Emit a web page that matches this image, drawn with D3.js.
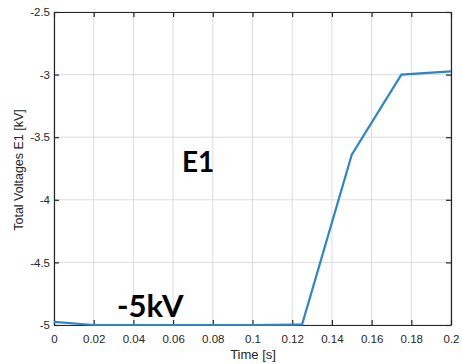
<!DOCTYPE html>
<html><head><meta charset="utf-8">
<script src="https://cdn.jsdelivr.net/npm/d3@7"></script>
<style>body{margin:0;background:#fff}svg{display:block}</style>
</head><body>
<script>
const times = [0, 0.02, 0.04, 0.06, 0.08, 0.1, 0.12, 0.125, 0.15, 0.175, 0.2];
const voltages = [-4.975, -5.0, -5.0, -5.0, -5.0, -5.0, -4.997, -4.995, -3.64, -3.0, -2.975];
const xTicks = [0, 0.02, 0.04, 0.06, 0.08, 0.1, 0.12, 0.14, 0.16, 0.18, 0.2];
const xTickLabels = ["0","0.02","0.04","0.06","0.08","0.1","0.12","0.14","0.16","0.18","0.2"];
const yTicks = [-5, -4.5, -4, -3.5, -3, -2.5];
const yTickLabels = ["-5","-4.5","-4","-3.5","-3","-2.5"];

const W = 462, H = 364;
const m = {l: 54, t: 12, r: 11, b: 39};
const svg = d3.select("body").append("svg").attr("width", W).attr("height", H);
const x = d3.scaleLinear().domain([0, 0.2]).range([m.l, W - m.r]);
const y = d3.scaleLinear().domain([-5, -2.5]).range([H - m.b, m.t]);
const axisColor = "#262626";
const font = "'Liberation Sans', Arial, sans-serif";

// grid
svg.append("g").selectAll("line").data(xTicks).join("line")
  .attr("x1", d => x(d)).attr("x2", d => x(d)).attr("y1", m.t).attr("y2", H - m.b)
  .attr("stroke", "#dcdcdc").attr("stroke-width", 1);
svg.append("g").selectAll("line").data(yTicks).join("line")
  .attr("y1", d => y(d)).attr("y2", d => y(d)).attr("x1", m.l).attr("x2", W - m.r)
  .attr("stroke", "#dcdcdc").attr("stroke-width", 1);

// axes
const fmtX = d => xTickLabels[xTicks.indexOf(d)];
const fmtY = d => yTickLabels[yTicks.indexOf(d)];
const gx = svg.append("g").attr("transform", `translate(0,${H - m.b})`)
  .call(d3.axisBottom(x).tickValues(xTicks).tickFormat(fmtX).tickSizeInner(-5).tickSizeOuter(0).tickPadding(10));
const gxt = svg.append("g").attr("transform", `translate(0,${m.t})`)
  .call(d3.axisTop(x).tickValues(xTicks).tickFormat("").tickSizeInner(-5).tickSizeOuter(0));
const gy = svg.append("g").attr("transform", `translate(${m.l},0)`)
  .call(d3.axisLeft(y).tickValues(yTicks).tickFormat(fmtY).tickSizeInner(-5).tickSizeOuter(0).tickPadding(4));
const gyr = svg.append("g").attr("transform", `translate(${W - m.r},0)`)
  .call(d3.axisRight(y).tickValues(yTicks).tickFormat("").tickSizeInner(-5).tickSizeOuter(0));
[gx, gxt, gy, gyr].forEach(g => {
  g.selectAll("path,line").attr("stroke", axisColor).attr("stroke-width", 1.2);
  g.selectAll("text").attr("fill", axisColor).style("font-family", font).style("font-size", "11.5px");
});

// line
const data = times.map((t, i) => ({t, v: voltages[i]}));
svg.append("path").datum(data)
  .attr("fill", "none").attr("stroke", "#2E86C9").attr("stroke-width", 2.2)
  .attr("d", d3.line().x(d => x(d.t)).y(d => y(d.v)));

// labels
svg.append("text").attr("x", 253).attr("y", 359).attr("text-anchor", "middle")
  .attr("fill", axisColor).style("font-family", font).style("font-size", "13px").text("Time [s]");
svg.append("text").attr("transform", `translate(23,170) rotate(-90)`).attr("text-anchor", "middle")
  .attr("fill", axisColor).style("font-family", font).style("font-size", "12.5px").text("Total Voltages E1 [kV]");

svg.append("text").attr("x", 182).attr("y", 172).attr("fill", "#000")
  .style("font-family", "Lato, 'Open Sans', sans-serif").style("font-weight", "bold").style("font-size", "28px").text("E1");
svg.append("text").attr("x", 117).attr("y", 317).attr("fill", "#000")
  .style("font-family", "Lato, 'Open Sans', sans-serif").style("font-weight", "bold").style("font-size", "31px").text("-5kV");
</script>
</body></html>
